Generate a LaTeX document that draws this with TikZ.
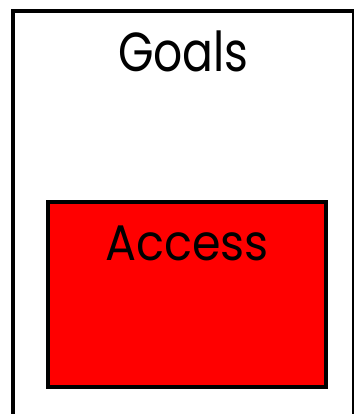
\documentclass[tikz,border=0pt]{standalone}
\usepackage{fontspec}
\usepackage{graphicx}
\setmainfont{Poppins}
\begin{document}
\begin{tikzpicture}[x=1pt,y=-1pt,
  frame/.style={draw=black,line width=4pt},
  accbox/.style={draw=black,fill=red,line width=4.5pt},
  lbl/.style={inner sep=0pt,anchor=base,text=black}]
\useasboundingbox (0,0) rectangle (353,414);
\draw[frame] (13,11) rectangle (353.5,430) coordinate (fr);
\path[accbox] (48,202) rectangle (326,387);
\node[lbl,font=\fontsize{55}{60}\selectfont] (goals) at (183.5,72) {\scalebox{0.83}[1]{Goals}};
\node[lbl,font=\fontsize{50}{56}\selectfont] (access) at (187,260) {\scalebox{0.92}[1]{Access}};
\end{tikzpicture}
\end{document}
